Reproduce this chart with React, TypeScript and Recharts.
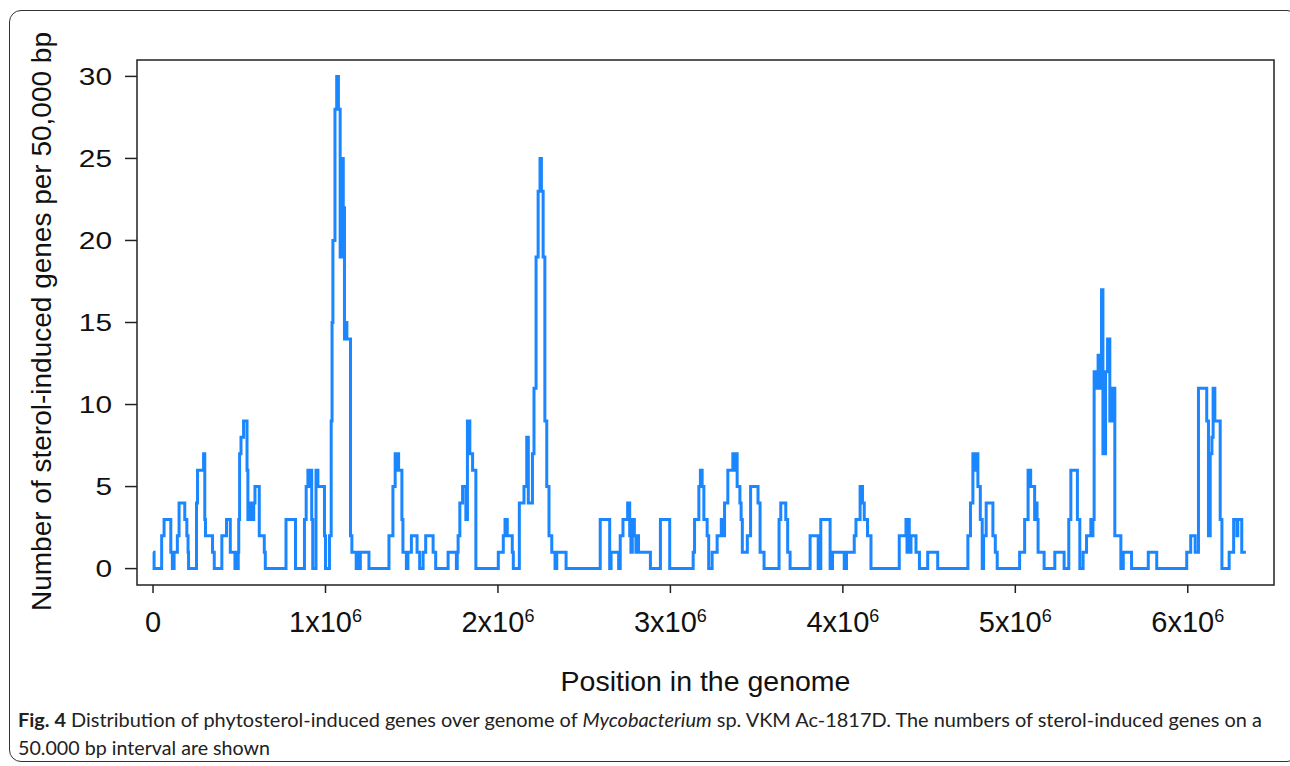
import React from "react";
import { LineChart, Line, XAxis, YAxis, ReferenceArea, Label } from "recharts";

// step breakpoints: [position in kb, genes per 50,000 bp]
const steps0to1Mb: [number, number][] = [
  [0, 1], [6, 0], [50, 2], [64, 3], [103, 1], [112, 0], [122, 1], [141, 2], [151, 4],
  [184, 3], [196, 2], [203, 1], [206, 0], [252, 4], [258, 6], [293, 7], [300, 3],
  [304, 2], [345, 1], [355, 0], [399, 2], [426, 3], [448, 1], [475, 0], [482, 1],
  [488, 0], [494, 1], [497, 3], [502, 7], [510, 8], [525, 9], [545, 6], [550, 3],
  [557, 4], [563, 3], [570, 4], [577, 3], [584, 4], [591, 5], [616, 2], [645, 1],
  [651, 0], [771, 3], [826, 0], [878, 3], [888, 5], [898, 6], [904, 5], [910, 6],
  [920, 3], [926, 0], [945, 6], [956, 5], [994, 2],
];

const steps1to2Mb: [number, number][] = [
  [1000, 0], [1023, 2], [1033, 9], [1038, 15], [1043, 20], [1055, 28], [1065, 30],
  [1075, 28], [1085, 19], [1091, 25], [1103, 19], [1106, 22], [1110, 14], [1118, 15],
  [1124, 14], [1145, 2], [1153, 1], [1178, 0], [1190, 1], [1196, 0], [1202, 1],
  [1252, 0], [1368, 2], [1391, 5], [1404, 7], [1410, 6], [1416, 7], [1424, 6],
  [1443, 3], [1449, 1], [1469, 0], [1478, 1], [1498, 2], [1531, 1], [1546, 0],
  [1566, 1], [1581, 2], [1624, 1], [1639, 0], [1711, 1], [1759, 0], [1764, 1],
  [1769, 2], [1779, 4], [1795, 5], [1814, 3], [1823, 9], [1837, 7], [1853, 6],
  [1872, 0],
];

const steps2to3Mb: [number, number][] = [
  [2002, 1], [2031, 2], [2041, 3], [2054, 2], [2083, 1], [2089, 0], [2124, 4],
  [2151, 5], [2167, 8], [2176, 4], [2200, 7], [2209, 11], [2221, 19], [2233, 23],
  [2244, 25], [2252, 23], [2262, 19], [2272, 9], [2283, 5], [2296, 2], [2312, 1],
  [2331, 0], [2341, 1], [2395, 0], [2593, 3], [2648, 0], [2656, 1], [2700, 0],
  [2709, 2], [2725, 3], [2752, 4], [2764, 2], [2771, 1], [2779, 3], [2791, 2],
  [2800, 1], [2805, 2], [2815, 1], [2884, 0], [2942, 3],
];

const steps3to4Mb: [number, number][] = [
  [2996, 0], [3132, 1], [3140, 3], [3165, 5], [3174, 6], [3184, 5], [3194, 3],
  [3213, 2], [3222, 0], [3242, 1], [3271, 2], [3295, 3], [3305, 2], [3314, 4],
  [3333, 6], [3362, 7], [3372, 6], [3378, 7], [3387, 5], [3403, 4], [3410, 3],
  [3417, 1], [3446, 2], [3465, 5], [3508, 4], [3520, 1], [3543, 0], [3630, 3],
  [3640, 4], [3669, 3], [3680, 1], [3694, 0], [3810, 2], [3857, 0], [3862, 2],
  [3866, 0], [3872, 3], [3926, 0], [3940, 1],
];

const steps4to5Mb: [number, number][] = [
  [4008, 0], [4021, 1], [4066, 2], [4076, 3], [4100, 5], [4114, 4], [4124, 3],
  [4143, 2], [4163, 0], [4327, 2], [4366, 3], [4372, 1], [4380, 3], [4385, 1],
  [4395, 2], [4424, 1], [4444, 0], [4492, 1], [4550, 0], [4725, 2], [4740, 4],
  [4754, 7], [4765, 6], [4772, 7], [4783, 5], [4797, 3], [4808, 0], [4816, 2],
  [4831, 4], [4870, 2], [4884, 1], [4895, 0],
];

const steps5MbToEnd: [number, number][] = [
  [5025, 1], [5054, 3], [5074, 6], [5089, 5], [5112, 3], [5120, 4], [5126, 3],
  [5132, 1], [5167, 0], [5229, 1], [5283, 0], [5310, 3], [5322, 6], [5360, 3],
  [5374, 0], [5393, 1], [5413, 2], [5438, 3], [5445, 2], [5450, 3], [5457, 12],
  [5471, 11], [5480, 13], [5490, 11], [5500, 17], [5508, 7], [5523, 12], [5535, 14],
  [5548, 9], [5557, 11], [5562, 9], [5567, 11], [5577, 2], [5612, 0], [5626, 1],
  [5674, 0], [5771, 1], [5820, 0], [5994, 1], [6017, 2], [6043, 1], [6062, 11],
  [6110, 9], [6120, 2], [6130, 7], [6140, 8], [6147, 11], [6157, 9], [6188, 3],
  [6198, 0], [6240, 1], [6266, 3], [6285, 2], [6290, 3], [6313, 1], [6337, 1],
];

const xTicks = [0, 1e6, 2e6, 3e6, 4e6, 5e6, 6e6];
const xTickBases = ["0", "1x10", "2x10", "3x10", "4x10", "5x10", "6x10"];
const yTicks = [0, 5, 10, 15, 20, 25, 30];

const data = [
  ...steps0to1Mb,
  ...steps1to2Mb,
  ...steps2to3Mb,
  ...steps3to4Mb,
  ...steps4to5Mb,
  ...steps5MbToEnd,
].map(([kb, genes]) => ({ pos: kb * 1000, genes }));

const FONT = "'Liberation Sans', Arial, sans-serif";
const X_DOMAIN: [number, number] = [-93000, 6500000];
const Y_DOMAIN: [number, number] = [-1, 31];

function XTick(props: any) {
  const { x, y, payload, index } = props;
  const base = xTickBases[index] ?? String(payload.value);
  return (
    <text x={x} y={y + 37} textAnchor="middle" fontFamily={FONT} fontSize={29} fill="#111">
      <tspan>{base}</tspan>
      {payload.value !== 0 && (
        <tspan dy={-10} fontSize={18}>
          6
        </tspan>
      )}
    </text>
  );
}

// the y labels in the figure are drawn a bit wider than normal
function YTick(props: any) {
  const { x, y, payload } = props;
  return (
    <text
      transform={`translate(${x},${y}) scale(1.27,1)`}
      textAnchor="end"
      dy="0.36em"
      fontFamily={FONT}
      fontSize={23.5}
      fill="#111"
    >
      {payload.value}
    </text>
  );
}

export default function App() {
  return (
    <div style={{ position: "absolute", left: 0, top: 0, width: 1290, height: 766, background: "#fff" }}>
      <LineChart width={1290} height={766} data={data} margin={{ top: 60, right: 16, bottom: 0, left: 0 }}>
        <XAxis
          dataKey="pos"
          type="number"
          domain={X_DOMAIN}
          allowDataOverflow
          ticks={xTicks}
          interval={0}
          height={181}
          axisLine={false}
          tickSize={8}
          tickLine={{ stroke: "#222", strokeWidth: 1.5 }}
          tick={<XTick />}
        >
          <Label
            content={({ viewBox }: any) => (
              <text
                x={viewBox.x + viewBox.width / 2}
                y={viewBox.y + 106}
                textAnchor="middle"
                fontFamily={FONT}
                fontSize={28.5}
                fill="#111"
              >
                Position in the genome
              </text>
            )}
          />
        </XAxis>
        <YAxis
          type="number"
          domain={Y_DOMAIN}
          allowDataOverflow
          ticks={yTicks}
          interval={0}
          width={137}
          axisLine={false}
          tickSize={12}
          tickMargin={13}
          tickLine={{ stroke: "#222", strokeWidth: 1.5 }}
          tick={<YTick />}
        >
          <Label
            content={({ viewBox }: any) => {
              const cx = viewBox.x + 41;
              const cy = viewBox.y + viewBox.height / 2 - 1;
              return (
                <text
                  x={cx}
                  y={cy}
                  transform={`rotate(-90 ${cx} ${cy})`}
                  textAnchor="middle"
                  dominantBaseline="central"
                  fontFamily={FONT}
                  fontSize={28}
                  fill="#111"
                >
                  Number of sterol-induced genes per 50,000 bp
                </text>
              );
            }}
          />
        </YAxis>
        <ReferenceArea
          x1={X_DOMAIN[0]}
          x2={X_DOMAIN[1]}
          y1={Y_DOMAIN[0]}
          y2={Y_DOMAIN[1]}
          fill="none"
          stroke="#222"
          strokeWidth={1.5}
          ifOverflow="visible"
        />
        <Line
          type="stepAfter"
          dataKey="genes"
          stroke="#1a86ff"
          strokeWidth={3}
          dot={false}
          isAnimationActive={false}
        />
      </LineChart>

      <svg width={1290} height={766} style={{ position: "absolute", left: 0, top: 0, pointerEvents: "none" }}>
        <text
          x={18}
          y={727}
          textLength={1244}
          lengthAdjust="spacingAndGlyphs"
          fontFamily="Lato, 'Open Sans', sans-serif"
          fontSize={18.5}
          fill="#222"
        >
          <tspan fontWeight="bold">Fig. 4</tspan>
          <tspan> Distribution of phytosterol-induced genes over genome of </tspan>
          <tspan fontStyle="italic">Mycobacterium</tspan>
          <tspan> sp. VKM Ac-1817D. The numbers of sterol-induced genes on a</tspan>
        </text>
        <text
          x={18}
          y={755}
          textLength={252}
          lengthAdjust="spacingAndGlyphs"
          fontFamily="Lato, 'Open Sans', sans-serif"
          fontSize={18.5}
          fill="#222"
        >
          50.000 bp interval are shown
        </text>
      </svg>

      <div
        style={{
          position: "absolute",
          left: 9,
          top: 10,
          width: 1290,
          height: 752,
          border: "1.5px solid #333",
          borderRadius: 12,
          boxSizing: "border-box",
          pointerEvents: "none",
        }}
      />
    </div>
  );
}
